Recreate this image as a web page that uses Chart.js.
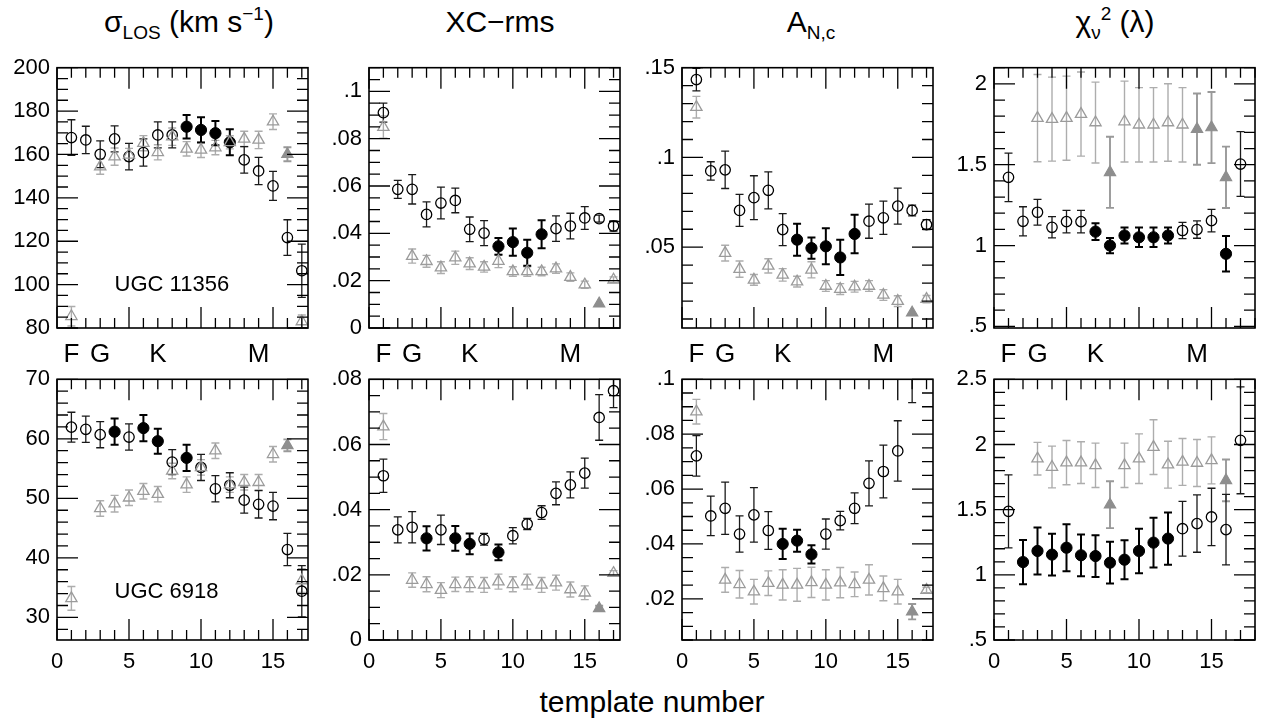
<!DOCTYPE html>
<html>
<head>
<meta charset="utf-8">
<title>Template comparison</title>
<script src="https://cdn.jsdelivr.net/npm/chart.js@4.4.1/dist/chart.umd.min.js"></script>
<style>
html,body{margin:0;padding:0;background:#fff;}
#stage{position:relative;width:1268px;height:728px;overflow:hidden;background:#fff;font-family:"Liberation Sans",Arial,Helvetica,sans-serif;color:#000;}
#stage canvas{position:absolute;left:0;top:0;}
.ttl{position:absolute;top:4px;transform:translateX(-50%);font-size:30px;line-height:36px;white-space:nowrap;}
.ttl sub{font-size:19px;vertical-align:-7px;line-height:0;}
.ttl sup{font-size:19px;vertical-align:12px;line-height:0;}
.xt{position:absolute;left:652px;top:684px;transform:translateX(-50%);font-size:30px;line-height:36px;white-space:nowrap;}
</style>
</head>
<body>
<div id="stage">
  <div class="ttl" style="left:189px">σ<sub>LOS</sub> (km s<sup>−1</sup>)</div>
  <div class="ttl" style="left:500px">XC−rms</div>
  <div class="ttl" style="left:811px">A<sub>N,c</sub></div>
  <div class="ttl" style="left:1115px">χ<sub>ν</sub><sup>2</sup> (λ)</div>
  <div class="xt">template number</div>
</div>
<script>
// ---------------- data ----------------
const templateNumbers = [1,2,3,4,5,6,7,8,9,10,11,12,13,14,15,16,17];
const xTickValues = [0,5,10,15];
const spectralLetters = ['F','G','K','M'];
const spectralTemplates = [1,3,7,14];

// UGC 11356 : sigma_LOS
const sigA_circ = [167.8,166.7,160.1,167.2,159.0,160.9,169.0,169.0,172.8,171.3,169.8,165.6,157.5,152.4,145.5,121.7,106.4];
const sigA_circErr = [8.2,6.3,6.2,6.0,6.1,6.3,6.0,6.0,5.4,5.8,5.6,6.0,6.1,6.3,6.7,8.2,12.3];
const sigA_circFilled = [9,10,11,12];
const sigA_tri = [85.4,null,154.4,159.0,159.8,165.2,161.0,168.2,162.6,162.1,163.2,165.6,167.2,166.7,175.1,160.1,83.0];
const sigA_triErr = [4.5,null,3.5,4,3,3.5,3.5,4,3.3,3.5,3.3,3,3.5,4,3.6,3.2,3];
const sigA_triFilled = [16];
const sigA_ticks = [80,100,120,140,160,180,200];

// UGC 11356 : XC-rms
const xcA_circ = [0.091,0.0586,0.0586,0.048,0.0528,0.0539,0.0417,0.0401,0.0345,0.0363,0.0318,0.0396,0.042,0.0431,0.0465,0.0462,0.0431];
const xcA_circErr = [0.004,0.0038,0.0062,0.0053,0.0067,0.0052,0.0052,0.0053,0.0035,0.0058,0.0055,0.0059,0.0054,0.0054,0.0048,0.0015,0.0022];
const xcA_circFilled = [9,10,11,12];
const xcA_tri = [0.0849,null,0.0304,0.0282,0.0255,0.0297,0.0272,0.0258,0.0283,0.0239,0.0239,0.0239,0.0251,0.0215,0.0183,0.0103,0.0204];
const xcA_triErr = [0.0047,null,0.003,0.0025,0.0025,0.0028,0.0025,0.0022,0.0028,0.002,0.002,0.0018,0.002,0.0018,0.0015,0,0.0012];
const xcA_triFilled = [16];
const xcA_ticks = [0,0.02,0.04,0.06,0.08,0.1];

// UGC 11356 : A_N,c
const anA_circ = [0.1434,0.0925,0.0931,0.0705,0.0776,0.0817,0.0598,0.0542,0.0495,0.0505,0.0443,0.0574,0.0645,0.0664,0.0729,0.0705,0.0626];
const anA_circErr = [0.0063,0.0051,0.0104,0.0089,0.0122,0.0103,0.0089,0.0089,0.0059,0.01,0.0098,0.0107,0.0095,0.0093,0.01,0.003,0.0028];
const anA_circFilled = [8,9,10,11,12];
const anA_tri = [0.128,null,0.0467,0.0378,0.0318,0.0396,0.0346,0.0308,0.0374,0.0284,0.0267,0.028,0.0284,0.0234,0.02,0.0135,0.0211];
const anA_triErr = [0.006,null,0.0044,0.0045,0.003,0.004,0.0035,0.003,0.0045,0.003,0.003,0.003,0.003,0.003,0.003,0,0.002];
const anA_triFilled = [16];
const anA_ticks = [0.05,0.1,0.15];

// UGC 11356 : chi2
const chiA_circ = [1.422,1.150,1.206,1.113,1.148,1.148,1.086,1.0,1.062,1.051,1.051,1.062,1.093,1.099,1.154,0.949,1.504];
const chiA_circErr = [0.15,0.09,0.08,0.066,0.07,0.07,0.052,0.047,0.05,0.06,0.06,0.05,0.05,0.054,0.07,0.11,0.2];
const chiA_circFilled = [7,8,9,10,11,12,16];
const chiA_tri = [null,null,1.788,1.782,1.788,1.813,1.761,1.453,1.767,1.747,1.747,1.761,1.747,1.720,1.730,1.422,null];
const chiA_triErr = [null,null,0.27,0.26,0.26,0.26,0.25,0.22,0.25,0.23,0.23,0.24,0.23,0.22,0.22,0.19,null];
const chiA_triFilled = [8,14,15,16];
const chiA_ticks = [0.5,1,1.5,2];

// UGC 6918 : sigma_LOS
const sigB_circ = [61.96,61.6,60.7,61.2,60.3,61.8,59.6,56.1,56.8,55.2,51.6,52.2,49.7,49.0,48.7,41.4,34.4];
const sigB_circErr = [2.5,2.2,2.2,2.2,2.2,2.2,2.1,2.1,2.2,2.2,2.2,2.1,2.2,2.3,2.3,2.7,4.3];
const sigB_circFilled = [4,6,7,9];
const sigB_tri = [33.2,null,48.3,49.1,50.1,51.2,50.7,54.6,52.3,55.2,58.0,52.3,52.7,52.7,57.4,58.9,36.2];
const sigB_triErr = [2,null,1.3,1.4,1.3,1.3,1.3,1.3,1.3,1.3,1.3,1.3,1.3,1.3,1.3,1,2];
const sigB_triFilled = [16];
const sigB_ticks = [30,40,50,60,70];

// UGC 6918 : XC-rms
const xcB_circ = [0.0504,0.0338,0.0346,0.0312,0.0338,0.0312,0.0295,0.0309,0.0269,0.032,0.0356,0.0391,0.045,0.0476,0.0512,0.0683,0.0765];
const xcB_circErr = [0.0051,0.004,0.0048,0.0037,0.0045,0.0038,0.0032,0.0018,0.0024,0.0025,0.0017,0.0021,0.0035,0.004,0.0046,0.007,0.0052];
const xcB_circFilled = [4,6,7,9];
const xcB_tri = [0.0655,null,0.0184,0.0171,0.0153,0.0171,0.0171,0.0169,0.0179,0.0171,0.0179,0.0169,0.0176,0.0155,0.0145,0.0097,0.0205];
const xcB_triErr = [0.004,null,0.0022,0.0023,0.0023,0.0022,0.0023,0.0023,0.0023,0.0023,0.0023,0.0023,0.0023,0.0023,0.0021,0.0008,0.0008];
const xcB_triFilled = [16];
const xcB_ticks = [0,0.02,0.04,0.06,0.08];

// UGC 6918 : A_N,c
const anB_circ = [0.0721,0.0502,0.053,0.0436,0.0506,0.0449,0.04,0.0412,0.0362,0.0436,0.0485,0.053,0.0621,0.0664,0.0739,0.106,null];
const anB_circErr = [0.0074,0.0072,0.0095,0.0066,0.0099,0.0069,0.0055,0.004,0.0033,0.0055,0.0034,0.0056,0.0082,0.0096,0.011,0.0145,null];
const anB_circFilled = [7,8,9];
const anB_tri = [0.0882,null,0.0269,0.0253,0.0226,0.0257,0.0251,0.0251,0.026,0.0251,0.0259,0.0253,0.0269,0.0238,0.0226,0.0153,0.0232];
const anB_triErr = [0.0045,null,0.0045,0.005,0.0045,0.0045,0.0055,0.006,0.0055,0.0055,0.0055,0.0045,0.0055,0.0045,0.0045,0.0028,0.001];
const anB_triFilled = [16];
const anB_ticks = [0.02,0.04,0.06,0.08,0.1];

// UGC 6918 : chi2
const chiB_circ = [1.487,1.098,1.183,1.155,1.208,1.15,1.144,1.093,1.116,1.183,1.247,1.278,1.354,1.393,1.444,1.347,2.032];
const chiB_circErr = [0.28,0.17,0.18,0.16,0.18,0.16,0.16,0.16,0.15,0.17,0.19,0.2,0.21,0.22,0.22,0.27,0.41];
const chiB_circFilled = [2,3,4,5,6,7,8,9,10,11,12];
const chiB_tri = [null,null,1.891,1.827,1.861,1.861,1.84,1.538,1.84,1.891,1.98,1.845,1.866,1.858,1.878,1.725,null];
const chiB_triErr = [null,null,0.125,0.16,0.17,0.16,0.17,0.18,0.17,0.19,0.21,0.18,0.18,0.18,0.18,0.16,null];
const chiB_triFilled = [8,16];
const chiB_ticks = [0.5,1,1.5,2,2.5];

// ---------------- layout of the 8 panels ----------------
const W = 1268, H = 728, Y_AXIS_W = 50, X_AXIS_H = 40;
const panels = [
  {area:[57,67.7,308,328], xMax:17.43, yMin:80, yMax:200, yMajor:20, yMinor:5, yTicks:sigA_ticks, showX:false, spectral:true,
   c:sigA_circ, ce:sigA_circErr, cf:sigA_circFilled, t:sigA_tri, te:sigA_triErr, tf:sigA_triFilled, label:{text:'UGC 11356', x:4.0, y:100}},
  {area:[369,67.7,620,328], xMax:17.45, yMin:0, yMax:0.11, yMajor:0.02, yMinor:0.005, yTicks:xcA_ticks, showX:false, spectral:true,
   c:xcA_circ, ce:xcA_circErr, cf:xcA_circFilled, t:xcA_tri, te:xcA_triErr, tf:xcA_triFilled},
  {area:[682,67.7,933,328], xMax:17.45, yMin:0.005, yMax:0.15, yMajor:0.05, yMinor:0.01, yTicks:anA_ticks, showX:false, spectral:true,
   c:anA_circ, ce:anA_circErr, cf:anA_circFilled, t:anA_tri, te:anA_triErr, tf:anA_triFilled},
  {area:[994,67.7,1255,328], xMax:18, yMin:0.49, yMax:2.1, yMajor:0.5, yMinor:0.1, yTicks:chiA_ticks, showX:false, spectral:true,
   c:chiA_circ, ce:chiA_circErr, cf:chiA_circFilled, t:chiA_tri, te:chiA_triErr, tf:chiA_triFilled},
  {area:[57,379.3,308,640], xMax:17.43, yMin:26.2, yMax:70, yMajor:10, yMinor:2, yTicks:sigB_ticks, showX:true, spectral:false,
   c:sigB_circ, ce:sigB_circErr, cf:sigB_circFilled, t:sigB_tri, te:sigB_triErr, tf:sigB_triFilled, label:{text:'UGC 6918', x:4.0, y:34.2}},
  {area:[369,379.3,620,640], xMax:17.45, yMin:0, yMax:0.08, yMajor:0.02, yMinor:0.005, yTicks:xcB_ticks, showX:true, spectral:false,
   c:xcB_circ, ce:xcB_circErr, cf:xcB_circFilled, t:xcB_tri, te:xcB_triErr, tf:xcB_triFilled},
  {area:[682,379.3,933,640], xMax:17.45, yMin:0.005, yMax:0.1, yMajor:0.02, yMinor:0.005, yTicks:anB_ticks, showX:true, spectral:false,
   c:anB_circ, ce:anB_circErr, cf:anB_circFilled, t:anB_tri, te:anB_triErr, tf:anB_triFilled},
  {area:[994,379.3,1255,640], xMax:18, yMin:0.5, yMax:2.5, yMajor:0.5, yMinor:0.1, yTicks:chiB_ticks, showX:true, spectral:false,
   c:chiB_circ, ce:chiB_circErr, cf:chiB_circFilled, t:chiB_tri, te:chiB_triErr, tf:chiB_triFilled}
];

const FONT = '"Liberation Sans", Arial, Helvetica, sans-serif';
Chart.defaults.font.family = FONT;
Chart.defaults.color = '#000';

function points(vals, errs, filledList, wantFilled) {
  const out = [];
  templateNumbers.forEach((t, i) => {
    if (vals[i] === null || vals[i] === undefined) return;
    if (filledList.includes(t) !== wantFilled) return;
    out.push({x: t, y: vals[i], e: errs[i] || 0});
  });
  return out;
}

function fmtTick(v) {
  const s = String(+Number(v).toFixed(4));
  return s.replace(/^0\./, '.');
}

// error bars drawn beneath the markers
const errorBars = {
  id: 'errorBars',
  beforeDatasetsDraw(chart) {
    const {ctx, chartArea: a} = chart;
    const ys = chart.scales.y;
    ctx.save();
    ctx.beginPath();
    ctx.rect(a.left, a.top, a.right - a.left, a.bottom - a.top);
    ctx.clip();
    chart.data.datasets.forEach((ds, di) => {
      const meta = chart.getDatasetMeta(di);
      ctx.strokeStyle = ds.errColor;
      ctx.lineWidth = ds.errWidth;
      meta.data.forEach((el, i) => {
        const raw = ds.data[i];
        if (!raw || !raw.e) return;
        const x = el.x;
        const y1 = ys.getPixelForValue(raw.y + raw.e);
        const y2 = ys.getPixelForValue(raw.y - raw.e);
        const cap = 4;
        ctx.beginPath();
        ctx.moveTo(x, y1); ctx.lineTo(x, y2);
        ctx.moveTo(x - cap, y1); ctx.lineTo(x + cap, y1);
        ctx.moveTo(x - cap, y2); ctx.lineTo(x + cap, y2);
        ctx.stroke();
      });
    });
    ctx.restore();
  }
};

// frame with inward ticks on all four sides, plus in-panel texts
const frameTicks = {
  id: 'frameTicks',
  afterDatasetsDraw(chart) {
    const {ctx, chartArea: a} = chart;
    const xs = chart.scales.x, ys = chart.scales.y;
    const P = chart.options.plugins.frameTicks;
    ctx.save();
    ctx.strokeStyle = '#000';
    ctx.lineWidth = 1.3;
    ctx.beginPath();
    for (let v = 0; v <= xs.max + 1e-9; v += 1) {
      const px = xs.getPixelForValue(v);
      const len = (v % 5 === 0) ? 21 : 10;
      ctx.moveTo(px, a.bottom); ctx.lineTo(px, a.bottom - len);
      ctx.moveTo(px, a.top); ctx.lineTo(px, a.top + len);
    }
    const k0 = Math.ceil(ys.min / P.minor - 1e-6), k1 = Math.floor(ys.max / P.minor + 1e-6);
    for (let k = k0; k <= k1; k++) {
      const v = k * P.minor;
      const r = v / P.major;
      const major = Math.abs(r - Math.round(r)) < 1e-6;
      const py = ys.getPixelForValue(v);
      const len = major ? 21 : 11;
      ctx.moveTo(a.left, py); ctx.lineTo(a.left + len, py);
      ctx.moveTo(a.right, py); ctx.lineTo(a.right - len, py);
    }
    ctx.stroke();
    ctx.lineWidth = 1.6;
    ctx.strokeRect(a.left, a.top, a.right - a.left, a.bottom - a.top);

    ctx.fillStyle = '#000';
    if (P.label) {
      ctx.font = '22px ' + FONT;
      ctx.textAlign = 'left';
      ctx.textBaseline = 'middle';
      ctx.fillText(P.label.text, xs.getPixelForValue(P.label.x), ys.getPixelForValue(P.label.y));
    }
    if (P.spectral) {
      ctx.font = '26px ' + FONT;
      ctx.textAlign = 'center';
      ctx.textBaseline = 'middle';
      spectralLetters.forEach((s, i) => {
        ctx.fillText(s, xs.getPixelForValue(spectralTemplates[i]), a.bottom + 27);
      });
    }
    ctx.restore();
  }
};

const stage = document.getElementById('stage');
panels.forEach((P, idx) => {
  const cv = document.createElement('canvas');
  cv.width = W; cv.height = H;
  stage.appendChild(cv);
  const [l, t, r, b] = P.area;
  const xH = P.showX ? X_AXIS_H : 0;
  const transparent = 'rgba(255,255,255,0)';
  const datasets = [
    {label:'open triangles', data: points(P.t, P.te, P.tf, false), pointStyle:'triangle', pointRadius:6.5,
     borderColor:'#9b9b9b', backgroundColor:transparent, pointBorderColor:'#9b9b9b', pointBackgroundColor:transparent,
     pointBorderWidth:1.3, errColor:'#adadad', errWidth:1.4},
    {label:'filled triangles', data: points(P.t, P.te, P.tf, true), pointStyle:'triangle', pointRadius:6.5,
     borderColor:'#8e8e8e', backgroundColor:'#8e8e8e', pointBorderColor:'#8e8e8e', pointBackgroundColor:'#8e8e8e',
     pointBorderWidth:1.2, errColor:'#999999', errWidth:1.9},
    {label:'open circles', data: points(P.c, P.ce, P.cf, false), pointStyle:'circle', pointRadius:5.2,
     borderColor:'#000', backgroundColor:transparent, pointBorderColor:'#000', pointBackgroundColor:transparent,
     pointBorderWidth:1.3, errColor:'#1a1a1a', errWidth:1.3},
    {label:'filled circles', data: points(P.c, P.ce, P.cf, true), pointStyle:'circle', pointRadius:5.6,
     borderColor:'#000', backgroundColor:'#000', pointBorderColor:'#000', pointBackgroundColor:'#000',
     pointBorderWidth:1, errColor:'#000', errWidth:2}
  ];
  datasets.forEach(d => { d.showLine = false; d.clip = 0; d.pointHoverRadius = d.pointRadius; });

  new Chart(cv, {
    type: 'scatter',
    data: {datasets},
    options: {
      responsive: false,
      animation: false,
      devicePixelRatio: 1,
      events: [],
      layout: {padding: {left: l - Y_AXIS_W, top: t, right: W - r, bottom: H - b - xH}},
      plugins: {
        legend: {display: false},
        tooltip: {enabled: false},
        frameTicks: {major: P.yMajor, minor: P.yMinor, label: P.label || null, spectral: P.spectral}
      },
      scales: {
        x: {
          type: 'linear', position: 'bottom', min: 0, max: P.xMax,
          grid: {display: false, drawTicks: false}, border: {display: false},
          ticks: {display: P.showX, font: {size: 22}, color: '#000', padding: 9, maxRotation: 0, autoSkip: false,
                  callback: v => String(v)},
          afterBuildTicks: s => { s.ticks = xTickValues.map(v => ({value: v})); },
          afterFit: s => { s.height = xH; }
        },
        y: {
          type: 'linear', position: 'left', min: P.yMin, max: P.yMax,
          grid: {display: false, drawTicks: false}, border: {display: false},
          ticks: {font: {size: 22}, color: '#000', padding: 7, autoSkip: false, callback: v => fmtTick(v)},
          afterBuildTicks: s => { s.ticks = P.yTicks.map(v => ({value: v})); },
          afterFit: s => { s.width = Y_AXIS_W; }
        }
      }
    },
    plugins: [errorBars, frameTicks]
  });
});
</script>
</body>
</html>
